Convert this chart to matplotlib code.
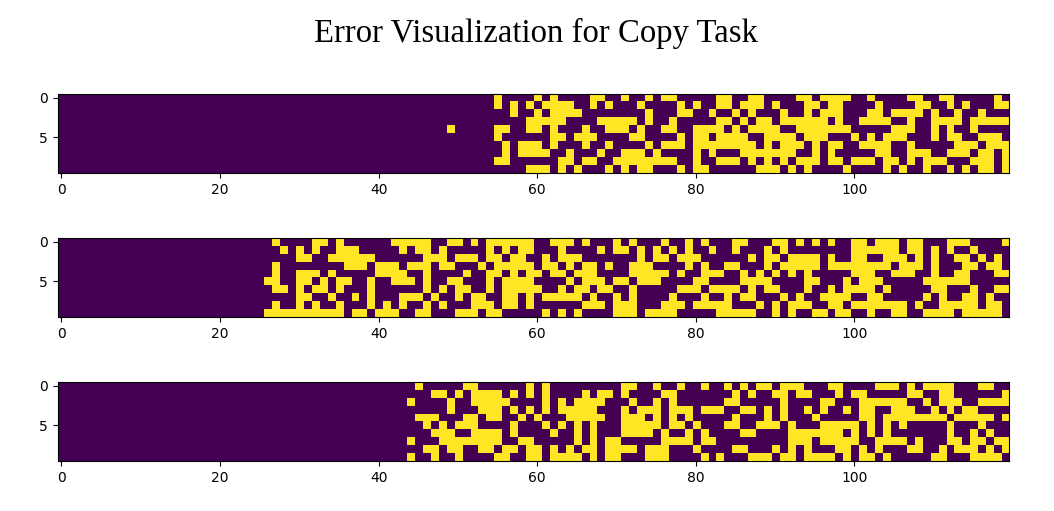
#!/usr/bin/env python3
"""Error maps for the copy task: three binary panels, 10 rows x 120 steps."""
import numpy as np, matplotlib
matplotlib.use("Agg")
import matplotlib.pyplot as plt

TITLE = "Error Visualization for Copy Task"
N_ROWS, N_STEPS = 10, 120
X_TICKS = [0, 20, 40, 60, 80, 100]
Y_TICKS = [0, 5]

# wrong bits per row, as runs of time steps
ERRORS_TOP = [
    "55 60 62 67-68 71 74 76-77 83-84 87-88 93-94 96-99 102 107-108 111-112 118",
    "55 57 59 61-64 67 69 73 78 80 83-84 86-88 90 94-95 97-98 103 108-109 112 114 118-119",
    "57 60 62-65 74 78-79 82 85 87 91 94 96-98 102-103 105-108 110 113 116",
    "59-63 68-72 74 77 83-84 86 88-89 91-96 98 101-104 107 110-113 115-119",
    "49 55-56 59-60 62 66 69-71 73 76-77 80-83 85 87-90 93-99 105-107 110 112 115",
    "55 62-63 65-67 72-73 78 80-81 83-86 89-92 94-96 100 102 104-106 110 112-113 116-118",
    "56 58-60 62 66 69 74 76-78 80-87 89 91-93 95 97-98 101-104 107 113-115 117-119",
    "56 58-61 64 68 71-73 75 80 82 86-92 95 97 103-104 107-109 112-114 116-117 119",
    "55-56 63-64 66-67 70-77 80 83-85 87 89 91 93-95 97-98 100-102 104-105 107 109-111 115-117 119",
    "59-61 63 65 69 71 73-74 78 80-81 88-90 92 94 99 104 106 109 112 114 116-117 119",
]
ERRORS_MID = [
    "27 32-33 35 42-46 49-50 52 54-56 57-59 62-64 66 70 72 76 79 81 85-86 90-91 93 95 97 100-101 103-105 107-108 112-114 119",
    "28 30 32 35-37 43 45-46 48 54 56 58-59 63 68 70-71 73 75 77 79 82 85 89 91 100-105 107-108 110 112 115",
    "30-31 34-39 46-48 50-52 54-55 57-58 61 63-65 73 75-76 78-80 87 89-90 92-95 97 100-101 104-106 108 110 113-114 116 118",
    "27 36-38 40-42 44-46 48-49 53 55-59 61-62 64 66-67 69 72-74 79 81 84-85 89 91-95 97-104 106-108 110 114-115 117-118",
    "27 30-32 34 40-43 46 51 54-55 57 59-60 62-63 65-67 72-76 78 81-83 86 88 90 92 94 100-102 105-107 110 113-114 118-119",
    "26-27 30-31 33 35-36 39 42-44 46 49-50 54 56-59 64 66-68 70-71 73-75 80-81 86-89 94-95 99 101-103 109-114",
    "27-28 30 32-33 35 39 46 48 50-51 54 56-60 63 65-66 68-69 72 78-80 82-85 87 89-90 94 97 99-102 104 110-111 115 118-119",
    "30-31 34 37 39 43-45 47 50 52-53 56-57 59 61-65 67 70 72 77 81 84 86-87 91 93 96-99 102-103 109 111 114-115 117",
    "27 30 32 35 39 41 43 46 48 52-54 56 57 59 66-68 70-72 76-78 80-84 88 90 92-94 97-98 100-106 108 111-115 117-118",
    "26-35 37-38 40-42 45-46 50-52 54-55 61 63 65 70-72 74-77 83-87 90 92 95-96 98-99 102 105-106 109-112 114-118",
]
ERRORS_BOT = [
    "45 51-52 59 61 71-72 75 78 81 84 86 88-89 91-93 97-98 103-105 107 109-112 116-117",
    "47-48 50 52-55 57 59 61 66 68-69 71 76-77 85 87 90-91 93-94 98 100-101 107-108 111-112 119",
    "44 49 52-56 61 63 65-68 72 75 77 84-85 91 96-97 101-106 109 111-113 116-119",
    "49 53-55 57 59 61 63-67 71 73-75 77-79 81-83 86-87 89 91 94 96 99 101-102 105-107 110 112 114-115",
    "45-47 51-52 54-55 58 60 64-68 71-73 75 77 79 85 89 91 95 101-102 104-111 113-117 119",
    "46 48 50-52 57 61 63 65 67 71-75 77-78 80 84-85 88-90 92 96-100 102 104 106 112 116",
    "47-49 52-55 57 62 65 67 71-74 76 79 81 86-87 92-98 100 102 104 112 115 117",
    "44 48-55 58-59 65 67 69-70 76-79 81-82 92-94 96-100 103-106 108 112-113 115-116 118-119",
    "46-47 49-50 53-54 56-57 59-60 62 64 66-67 69-72 74-76 80 85-86 90 92 94 98-99 101 103 107-108 111 113-115 117 119",
    "44 47 50 55-56 59-60 62-65 67 69-70 74-76 81 83 87-89 91-92 94-97 99 101-102 104 110-111 115-118",
]


def to_matrix(rows):
    m = np.zeros((N_ROWS, N_STEPS))
    for r, line in enumerate(rows):
        for run in line.split():
            a, _, b = run.partition("-")
            m[r, int(a):int(b or a) + 1] = 1
    return m


W, H = 1054, 511
fig = plt.figure(figsize=(W / 100, H / 100), dpi=100)
tops = [94, 238, 382]
for top, rows in zip(tops, [ERRORS_TOP, ERRORS_MID, ERRORS_BOT]):
    ax = fig.add_axes([57.5 / W, 1 - (top + 79) / H, 951.5 / W, 79 / H])
    ax.imshow(to_matrix(rows), cmap="viridis", aspect="auto", interpolation="nearest")
    ax.set_xticks(X_TICKS); ax.set_yticks(Y_TICKS)
fig.text(536 / W, 1 - 33 / H, TITLE, ha="center", va="center",
         fontsize=23.6, family="Liberation Serif", color="black")
fig.savefig("out.png", dpi=100)
print("saved out.png")
